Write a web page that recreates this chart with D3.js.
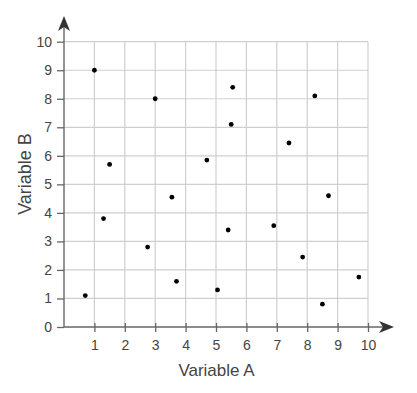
<!DOCTYPE html>
<html>
<head>
<meta charset="utf-8">
<script src="https://cdn.jsdelivr.net/npm/d3@7"></script>
<style>
  body { margin: 0; background: #fff; }
  text { font-family: "Liberation Sans", Arial, sans-serif; fill: #444; }
</style>
</head>
<body>
<svg id="chart"></svg>
<script>
// values
const varA = [1, 3, 1.5, 4.7, 3.55, 5.55, 8.25, 5.5, 7.4, 8.7, 1.3, 2.75, 0.7, 3.7, 5.4, 6.9, 7.85, 5.05, 8.5, 9.7];
const varB = [9, 8, 5.7, 5.85, 4.55, 8.4, 8.1, 7.1, 6.45, 4.6, 3.8, 2.8, 1.1, 1.6, 3.4, 3.55, 2.45, 1.3, 0.8, 1.75];
const xTicks = [1, 2, 3, 4, 5, 6, 7, 8, 9, 10];
const yTicks = [0, 1, 2, 3, 4, 5, 6, 7, 8, 9, 10];

const width = 417;
const height = 393;

const svg = d3.select("#chart")
    .attr("width", width)
    .attr("height", height);

let xScale = d3.scaleLinear().domain([0, 10]).range([64, 368]);
let yScale = d3.scaleLinear().domain([0, 10]).range([327, 41.7]);

// grid
svg.append("g")
  .selectAll("line")
  .data(xTicks)
  .enter()
  .append("line")
    .attr("x1", d => xScale(d)).attr("x2", d => xScale(d))
    .attr("y1", yScale(0)).attr("y2", yScale(10))
    .attr("stroke", "#cfcfcf").attr("stroke-width", 1.2);

svg.append("g")
  .selectAll("line")
  .data(yTicks.filter(d => d > 0))
  .enter()
  .append("line")
    .attr("x1", xScale(0)).attr("x2", xScale(10))
    .attr("y1", d => yScale(d)).attr("y2", d => yScale(d))
    .attr("stroke", "#cfcfcf").attr("stroke-width", 1.2);

// axes
let xAxis = d3.axisBottom(xScale).tickValues(xTicks).tickSize(5).tickSizeOuter(0).tickPadding(8);
let yAxis = d3.axisLeft(yScale).tickValues(yTicks).tickSize(7).tickSizeOuter(0).tickPadding(5);

const gx = svg.append("g")
    .attr("transform", `translate(0, ${yScale(0)})`)
    .call(xAxis);
const gy = svg.append("g")
    .attr("transform", `translate(${xScale(0)}, 0)`)
    .call(yAxis);

[gx, gy].forEach(g => {
  g.select(".domain").remove();
  g.selectAll(".tick line").attr("stroke", "#666").attr("stroke-width", 1.3);
  g.selectAll(".tick text").style("font-size", "14px").attr("fill", "#444");
});
gx.selectAll(".tick line").attr("y1", -4);

// axis lines with arrows
svg.append("line")
    .attr("x1", xScale(0)).attr("x2", 384)
    .attr("y1", yScale(0)).attr("y2", yScale(0))
    .attr("stroke", "#666").attr("stroke-width", 1.4);
svg.append("line")
    .attr("x1", xScale(0)).attr("x2", xScale(0))
    .attr("y1", yScale(0)).attr("y2", 26)
    .attr("stroke", "#666").attr("stroke-width", 1.4);

const x0 = xScale(0), y0 = yScale(0);
svg.append("path")
    .attr("d", `M${x0},16 L${x0 + 6},31 L${x0},27 L${x0 - 6},31 Z`)
    .attr("fill", "#333");
svg.append("path")
    .attr("d", `M394,${y0} L379,${y0 - 6} L383,${y0} L379,${y0 + 6} Z`)
    .attr("fill", "#333");

// points
svg.append("g")
  .selectAll("circle")
  .data(varA.map((a, i) => [a, varB[i]]))
  .enter()
  .append("circle")
    .attr("cx", d => xScale(d[0]))
    .attr("cy", d => yScale(d[1]))
    .attr("r", 2.4)
    .attr("fill", "#000");

// titles
svg.append("text")
    .attr("x", 216.5)
    .attr("y", 376)
    .style("text-anchor", "middle")
    .style("font-size", "17px")
    .text("Variable A");

svg.append("text")
    .attr("transform", "rotate(-90)")
    .attr("x", -174)
    .attr("y", 31)
    .style("text-anchor", "middle")
    .style("font-size", "18px")
    .text("Variable B");
</script>
</body>
</html>
